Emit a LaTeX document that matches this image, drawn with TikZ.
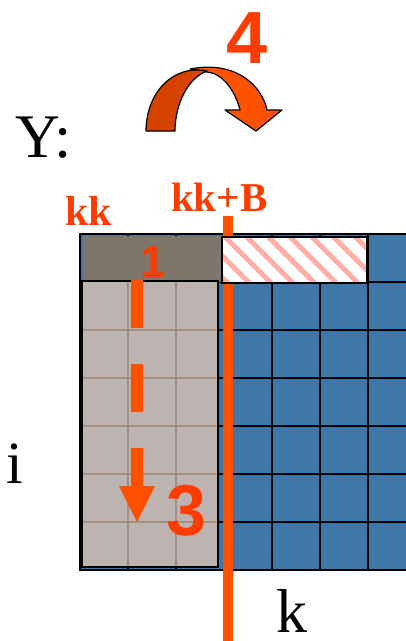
\documentclass[tikz,border=0pt]{standalone}
\usepackage{fontspec}
\setmainfont{Liberation Serif}
\newfontfamily\digitfont{Liberation Sans}

\definecolor{gridblue}{HTML}{3F77A8}
\definecolor{topgray}{HTML}{7E756B}
\definecolor{panel}{HTML}{BDB3B1}
\definecolor{panelline}{HTML}{A48F83}
\definecolor{hatchpink}{HTML}{FFADA5}
\definecolor{accent}{HTML}{FF5000}
\definecolor{labelred}{HTML}{FF3C00}
\definecolor{ribbondark}{HTML}{D64300}
\definecolor{ribbonlight}{HTML}{FF5200}

\tikzset{
  gridline/.style={draw=black, line width=1.8pt},
  panelgrid/.style={draw=panelline, line width=1.4pt},
  bigserif/.style={inner sep=0pt, anchor=base west, font=\fontsize{62}{62}\selectfont},
  redlabel/.style={inner sep=0pt, anchor=base west, text=labelred, font=\bfseries\fontsize{42}{42}\selectfont},
  stepnum/.style={inner sep=0pt, anchor=base, text=labelred, font=\digitfont\bfseries\fontsize{#1}{#1}\selectfont},
  ribbon/.style={draw=black, line width=1.2pt, line join=round},
}

\begin{document}
\begin{tikzpicture}[x=1pt, y=-1pt]
\useasboundingbox (0,0) rectangle (405,641);

% blue matrix with its cell lines
\fill[gridblue] (80,234) rectangle (420,570);
\foreach \gx in {128,176,224,272,320,368}
  \draw[gridline] (\gx,234) -- (\gx,570);
\foreach \gy in {282,330,378,426,474,522}
  \draw[gridline] (80,\gy) -- (420,\gy);
\draw[gridline] (80,234) rectangle (420,570);

% finished top strip
\fill[topgray] (83,235.5) rectangle (222,282);

% current column block
\filldraw[fill=panel, gridline] (82,281) rectangle (218,567);
\foreach \gx in {128,176}
  \draw[panelgrid] (\gx,282) -- (\gx,566);
\foreach \gy in {330,378,426,474,522}
  \draw[panelgrid] (83,\gy) -- (217,\gy);

% block boundary at kk+B
\draw[accent, line width=10pt] (227.5,216) -- (227.5,641);

% hatched block of the top row
\fill[white] (222,237) rectangle (367,283);
\begin{scope}
  \clip (222,237) rectangle (367,283);
  \foreach \sx in {160,181.7,...,380}
    \draw[hatchpink, line width=5pt] (\sx,237) -- ++(46,46);
\end{scope}
\draw[gridline] (222,237) rectangle (367,283);

% dashed downward sweep with its head
\coordinate (sweepstart) at (137,280);
\coordinate (sweepend) at (137,487);
\coordinate (sweeptip) at (137,522);
\draw[accent, line width=12pt, dash pattern=on 48pt off 36pt] (sweepstart) -- (sweepend);
\fill[accent] (119,486) -- (155,486) -- (sweeptip) -- cycle;

% curved ribbon arrow
\filldraw[fill=ribbonlight, ribbon]
  (190,69) .. controls (236,60) and (262,86) .. (267,110)
  -- (282,110) -- (256,131) -- (225,110) -- (240,110)
  .. controls (235,90) and (222,73) .. (207,72) -- cycle;
\filldraw[fill=ribbondark, ribbon]
  (146,131) .. controls (146,94) and (172,64) .. (207,71)
  .. controls (188,78) and (175,104) .. (175,131) -- cycle;

% labels
\node[bigserif] (ylab) at (15,157) {Y:};
\node[bigserif, font=\fontsize{60}{60}\selectfont] (ilab) at (6,483) {i};
\node[bigserif] (klab) at (276,632) {k};
\node[redlabel] (kklab) at (65,225) {kk};
\node[redlabel, font=\bfseries\fontsize{41}{41}\selectfont] (kkblab) at (171,211) {kk+B};
\node[stepnum=74] (stepfour) at (247,63) {4};
\node[stepnum=45] (stepone) at (153,277) {1};
\node[stepnum=72] (stepthree) at (187,535) {3};
\end{tikzpicture}
\end{document}
